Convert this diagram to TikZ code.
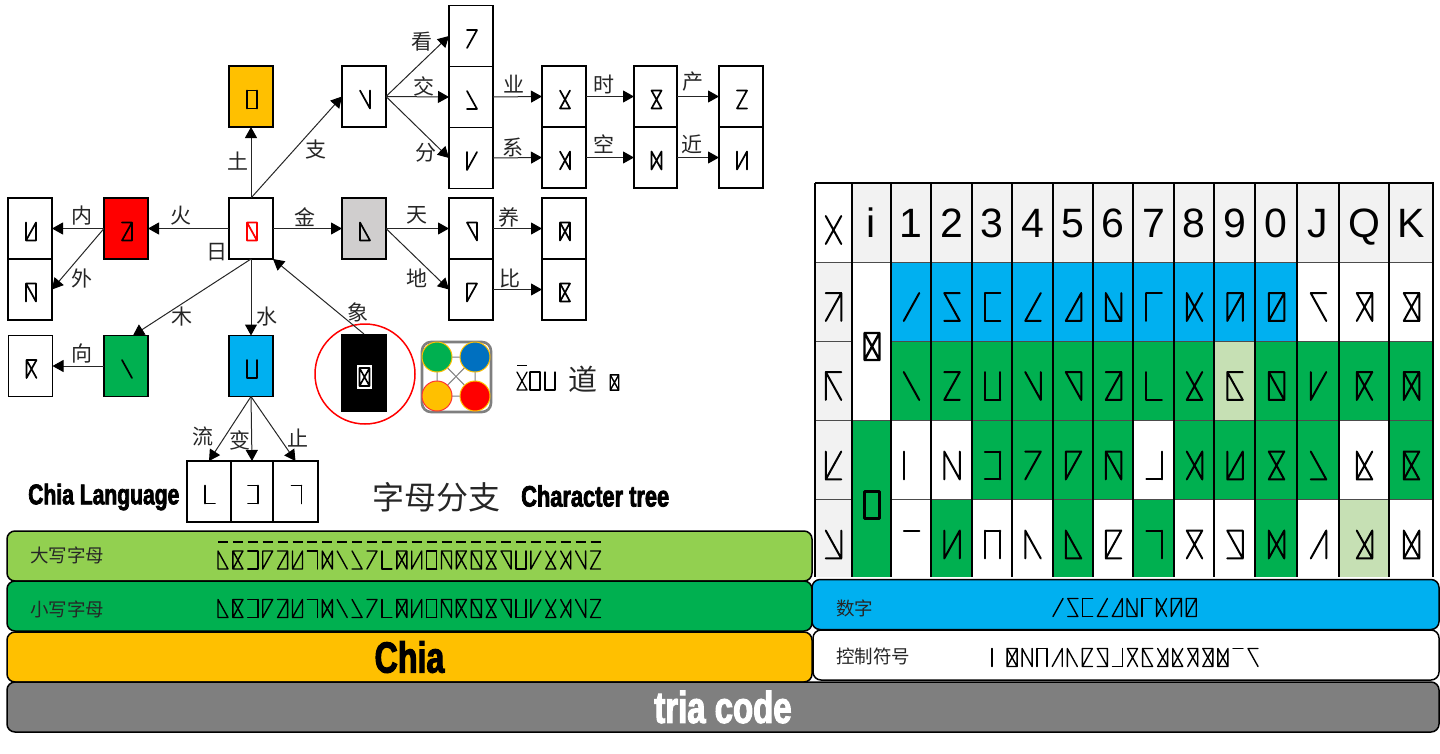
\documentclass[tikz,border=0pt]{standalone}
\usepackage{fontspec}
\setmainfont{Liberation Sans}
\newfontfamily\cjk{Noto Sans CJK SC}
\newfontfamily\heavy{Liberation Sans}[BoldFeatures={FakeStretch=0.74,FakeBold=2.4}]
\usetikzlibrary{arrows.meta}
\definecolor{cblue}{HTML}{00B0F0}
\definecolor{cgreen}{HTML}{00B050}
\definecolor{clime}{HTML}{92D050}
\definecolor{cpale}{HTML}{C6E0B4}
\definecolor{cgold}{HTML}{FFC000}
\definecolor{chead}{HTML}{F2F2F2}
\definecolor{cstone}{HTML}{D0CECE}
\definecolor{cbase}{HTML}{7F7F7F}
\definecolor{cdeep}{HTML}{0070C0}
\tikzset{
  box/.style={draw=black,line width=1.4pt,minimum width=44pt,minimum height=61pt,inner sep=0pt,outer sep=0pt},
  band/.style={draw=black,line width=1.5pt,rounded corners=8pt,inner sep=0pt,outer sep=0pt,minimum height=50pt},
  flow/.style={-{Triangle[length=11pt,width=12pt,color=black]},line width=1pt,draw=black!85},
  word/.style={font=\cjk\fontsize{21}{21}\selectfont,text=black!85,inner sep=0pt},
  tagname/.style={font=\heavy\bfseries\fontsize{28.5}{28.5}\selectfont,inner sep=0pt},
  bandtext/.style={font=\cjk\fontsize{18.5}{18.5}\selectfont,text=black!85,inner sep=0pt},
  grid/.style={line width=1.3pt,draw=black},
  tt/.style={insert path={(-5,-9)--(5,-9)}},
  bb/.style={insert path={(-5,9)--(5,9)}},
  ll/.style={insert path={(-5,-9)--(-5,9)}},
  rr/.style={insert path={(5,-9)--(5,9)}},
  uu/.style={insert path={(-5,9)--(5,-9)}},
  dd/.style={insert path={(-5,-9)--(5,9)}},
  pics/tria/.style={code={\edef\triarun{\noexpand\draw[line cap=round,#1];}\triarun}},
}
% column edges of the table
\def\colx{{815,852,891,931,972,1012,1053,1093,1133,1174,1214,1255,1297,1339,1389,1433}}
\newcommand\tablerow[4]{%
  \foreach \fillc/\s [count=\c from 2] in {#4} {
    \pgfmathsetmacro\xa{\colx[\c]}
    \pgfmathsetmacro\xb{\colx[\c+1]}
    \fill[\fillc] (\xa,#1) rectangle (\xb,#2);
    \pic[scale=1.55,line width=2pt] at ({(\xa+\xb)/2+0.5},#3) {tria=\s};
  }}
\def\alphabet{{ll,dd,bb},{tt,ll,uu,dd,bb},{tt,rr,bb},{tt,ll,uu},{tt,uu,bb,rr},{ll,uu,bb,rr},{tt,rr},{ll,rr,uu,dd},{dd},{dd,bb},{tt,uu},{ll,bb},{tt,ll,rr,uu,dd},{ll,uu,rr},{tt,ll,rr,bb},{tt,ll,dd,rr},{tt,ll,uu,dd},{tt,ll,rr,bb,dd},{tt,uu,dd,bb},{tt,dd,rr},{ll,rr,bb},{ll,uu},{uu,dd,bb},{uu,dd,rr},{dd,rr},{tt,uu,bb}}
\begin{document}
\begin{tikzpicture}[x=1pt,y=-1pt]
  \useasboundingbox (0,0) rectangle (1440,753);
  % tree nodes
  \node[box] (nsun) at (251,228.5) {};
  \node[box,fill=cgold] (nearth) at (251,96.5) {};
  \node[box] (nbranch) at (364,96.5) {};
  \node[box,fill=red] (nfire) at (126,228.5) {};
  \node[box] (ninner) at (30,228.5) {};
  \node[box] (nouter) at (30,289.5) {};
  \node[box,fill=cstone] (ngold) at (364,228.5) {};
  \node[box] (nsee) at (471,36) {};
  \node[box] (ncross) at (471,97) {};
  \node[box] (nsplit) at (471,158) {};
  \node[box] (nwork) at (564,96.5) {};
  \node[box] (nlink) at (564,157.5) {};
  \node[box,minimum width=43pt] (ntime) at (655.5,96.5) {};
  \node[box,minimum width=43pt] (nvoid) at (655.5,157.5) {};
  \node[box] (nmake) at (741,96.5) {};
  \node[box] (nnear) at (741,157.5) {};
  \node[box] (nsky) at (471,228.5) {};
  \node[box] (nland) at (471,289.5) {};
  \node[box] (nfeed) at (564,228.5) {};
  \node[box] (npair) at (564,289.5) {};
  \node[box,fill=cgreen] (nwood) at (126,366) {};
  \node[box] (nface) at (30.5,366) {};
  \node[box,fill=cblue] (nwater) at (251,366) {};
  \node[box] (nflow) at (209,491.5) {};
  \node[box,minimum width=42pt] (nchange) at (252,491.5) {};
  \node[box,minimum width=45pt] (nstop) at (295.5,491.5) {};
  \node[fill=black,minimum width=46pt,minimum height=78pt,inner sep=0pt,outer sep=0pt] (nimage) at (364,373) {};
  \node[fill=white,minimum width=15pt,minimum height=24pt,inner sep=0pt] (nmark) at (364.5,377) {};
  \draw[red,line width=1.5pt] (nimage.center) ++(1,1) circle[radius=50pt];
  % glyphs in the nodes
  \foreach \n/\s in {nearth/{tt,ll,rr,bb},nbranch/{dd,rr},nfire/{tt,uu,bb,rr},ninner/{ll,uu,bb,rr},nouter/{tt,ll,dd,rr},
      ngold/{ll,dd,bb},nsee/{tt,uu},ncross/{dd,bb},nsplit/{ll,uu},nwork/{uu,dd,bb},nlink/{uu,dd,rr},ntime/{tt,uu,dd,bb},
      nvoid/{ll,rr,uu,dd},nmake/{tt,uu,bb},nnear/{ll,uu,rr},nsky/{tt,dd,rr},nland/{tt,ll,uu},nfeed/{tt,ll,rr,uu,dd},
      npair/{tt,ll,uu,dd,bb},nwood/{dd},nface/{tt,ll,uu,dd},nwater/{ll,rr,bb},nflow/{ll,bb},nchange/{tt,rr,bb},nstop/{tt,rr}}
    \pic[line width=1.7pt] at ([shift={(1,3)}]\n.center) {tria=\s};
  \pic[red,line width=1.7pt] at ([shift={(1,3)}]nsun.center) {tria={tt,ll,rr,bb,dd}};
  \pic[line width=1.6pt] at (nmark) {tria={tt,ll,rr,bb,uu,dd}};
  % arrows of the tree
  \draw[flow] (nsun.north) -- (nearth.south);
  \draw[flow] (nsun.north) -- (nbranch.west);
  \draw[flow] (nsun.west) -- (nfire.east);
  \draw[flow] (nfire.west) -- (ninner.east);
  \draw[flow] (nfire.west) -- (nouter.east);
  \draw[flow] (nsun.east) -- (ngold.west);
  \draw[flow] (nbranch.east) -- (nsee.west);
  \draw[flow] (nbranch.east) -- (ncross.west);
  \draw[flow] (nbranch.east) -- (nsplit.west);
  \draw[flow] (ncross.east) -- (nwork.west);
  \draw[flow] (nsplit.east) -- (nlink.west);
  \draw[flow] (nwork.east) -- (ntime.west);
  \draw[flow] (nlink.east) -- (nvoid.west);
  \draw[flow] (ntime.east) -- (nmake.west);
  \draw[flow] (nvoid.east) -- (nnear.west);
  \draw[flow] (ngold.east) -- (nsky.west);
  \draw[flow] (ngold.east) -- (nland.west);
  \draw[flow] (nsky.east) -- (nfeed.west);
  \draw[flow] (nland.east) -- (npair.west);
  \draw[flow] (nsun.south) -- ([xshift=7pt]nwood.north);
  \draw[flow] (nsun.south) -- (nwater.north);
  \draw[flow] (nwood.west) -- (nface.east);
  \draw[flow] (nwater.south) -- (nflow.north);
  \draw[flow] (nwater.south) -- (nchange.north);
  \draw[flow] (nwater.south) -- (nstop.north);
  \draw[flow] (nimage.north) -- (nsun.south east);
  % words on the arrows
  \foreach \t/\x/\y in {土/238/161,支/316/150,内/82/216,火/181/216,金/305/217,日/217/252,外/82/278,木/182/317,水/267/317,
      象/358/312,向/82/353,流/203/436,变/240/440,止/298/438,看/422/42,交/424/86,分/426/153,业/514/84,时/604/84,产/693/82,
      系/513/147,空/604/144,近/692/144,天/417/215,地/417/278,养/509/217,比/510/278}
    \node[word] at (\x,\y) {\t};
  % logo
  \node[draw=cbase,line width=2.6pt,rounded corners=9pt,fill=white,minimum width=69pt,minimum height=70pt,inner sep=0pt] (nlogo) at (456.5,377) {};
  \coordinate (ca) at (437,357);
  \coordinate (cb) at (475,357);
  \coordinate (cc) at (437,396);
  \coordinate (cd) at (475,396);
  \draw[cbase,line width=1pt] (ca)--(cb)--(cd)--(cc)--cycle (ca)--(cd) (cb)--(cc);
  \fill[cgreen,draw=cgold,line width=1pt] (ca) circle[radius=15pt];
  \fill[cdeep,draw=cgold,line width=1pt] (cb) circle[radius=15pt];
  \fill[cgold,draw=red!80,line width=1pt] (cc) circle[radius=15pt];
  \fill[red,draw=cgold,line width=1pt] (cd) circle[radius=15pt];
  % name beside the logo
  \draw[line width=1.3pt] (517,365.5) -- (527,365.5);
  \pic[line width=1.3pt] at (522,381) {tria={uu,dd,bb}};
  \pic[line width=1.3pt] at (535,381) {tria={tt,ll,rr,bb}};
  \pic[line width=1.3pt] at (550,381) {tria={ll,rr,bb}};
  \node[font=\cjk\fontsize{29}{29}\selectfont,text=black!85,inner sep=0pt] (ndao) at (582.5,379) {道};
  \pic[scale=0.85,line width=1.4pt] at (614.5,382.5) {tria={tt,ll,rr,bb,uu,dd}};
  % captions
  \node[tagname,anchor=west] (nchia) at (28,497) {Chia Language};
  \node[font=\cjk\fontsize{32}{32}\selectfont,text=black!85,inner sep=0pt] (nzimu) at (436,497) {字母分支};
  \node[tagname,anchor=west,font=\heavy\bfseries\fontsize{29.5}{29.5}\selectfont] (ntree) at (521,496) {Character tree};
  % bands
  \node[band,fill=clime,minimum width=805pt] (bupper) at (409.5,556) {};
  \node[band,fill=cgreen,minimum width=805pt] (blower) at (409.5,606) {};
  \node[band,fill=cgold,minimum width=805pt] (bchia) at (409.5,657) {};
  \node[band,fill=cblue,minimum width=627pt] (bdigit) at (1125.5,604.5) {};
  \node[band,fill=white,minimum width=626pt] (bcontrol) at (1126,655) {};
  \node[band,fill=cbase,minimum width=1432pt] (bbase) at (723,707) {};
  \node[bandtext,anchor=west] at (30,555) {大写字母};
  \node[bandtext,anchor=west] at (30,609) {小写字母};
  \node[bandtext,anchor=west] at (836,608) {数字};
  \node[bandtext,anchor=west] at (836,656) {控制符号};
  \node[font=\heavy\bfseries\fontsize{43.5}{43.5}\selectfont,inner sep=0pt] at (bchia) {Chia};
  \node[font=\heavy\bfseries\fontsize{44.5}{44.5}\selectfont,text=white,inner sep=0pt] at (bbase) {tria code};
  % alphabets in the bands
  \foreach \s [count=\i from 0] in \alphabet {
    \pic[line width=1.4pt] at (223+14.9*\i,560) {tria=\s};
    \draw[line width=1.4pt] (218+14.9*\i,542) -- ++(10,0);
    \pic[line width=1.4pt] at (223+14.9*\i,608.5) {tria=\s};
  }
  \foreach \s [count=\i from 0] in {{uu},{tt,dd,bb},{tt,ll,bb},{uu,bb},{uu,bb,rr},{ll,dd,rr,bb},{tt,ll},{ll,uu,dd},{tt,ll,rr,uu},{tt,ll,rr,bb,uu}}
    \pic[line width=1.4pt] at (1058+14.8*\i,607.5) {tria=\s};
  \foreach \s [count=\i from 0] in {{ll},{tt,ll,rr,bb,uu,dd},{ll,dd,rr},{tt,ll,rr},{uu,rr},{ll,dd},{tt,ll,bb,uu},{tt,dd,bb,rr},{rr,bb},{tt,uu,dd},{tt,ll,dd,bb},{rr,uu,dd,bb},{ll,uu,dd,bb},{tt,rr,uu,dd},{tt,bb,rr,uu,dd},{ll,rr,uu,dd,bb},{tt},{tt,dd}}
    \pic[line width=1.4pt] at (997+15.06*\i,657.5) {tria=\s};
  % table
  \fill[chead] (852,183) rectangle (1433,262);
  \fill[chead] (815,262) rectangle (852,577);
  \fill[cgreen] (852,420) rectangle (891,577);
  \foreach \t [count=\c from 1] in {i,1,2,3,4,5,6,7,8,9,0,J,Q,K} {
    \pgfmathsetmacro\xa{\colx[\c]}
    \pgfmathsetmacro\xb{\colx[\c+1]}
    \node[font=\fontsize{41}{41}\selectfont,inner sep=0pt,text=black,anchor=base] at ({(\xa+\xb)/2},237) {\t};
  }
  \tablerow{262}{341}{307}{cblue/{uu},cblue/{tt,dd,bb},cblue/{tt,ll,bb},cblue/{uu,bb},cblue/{uu,bb,rr},cblue/{ll,dd,rr,bb},cblue/{tt,ll},cblue/{ll,uu,dd},cblue/{tt,ll,rr,uu},cblue/{tt,ll,rr,bb,uu},white/{tt,dd},white/{tt,rr,uu,dd},white/{tt,bb,rr,uu,dd}}
  \tablerow{341}{420}{386}{cgreen/{dd},cgreen/{tt,uu,bb},cgreen/{ll,rr,bb},cgreen/{dd,rr},cgreen/{tt,dd,rr},cgreen/{tt,uu,bb,rr},cgreen/{ll,bb},cgreen/{uu,dd,bb},cpale/{tt,ll,dd,bb},cgreen/{tt,ll,rr,bb,dd},cgreen/{ll,uu},cgreen/{tt,ll,uu,dd},cgreen/{tt,ll,rr,uu,dd}}
  \tablerow{420}{499}{465.5}{white/{ll},white/{ll,dd,rr},cgreen/{tt,rr,bb},cgreen/{tt,uu},cgreen/{tt,ll,uu},cgreen/{tt,ll,dd,rr},white/{rr,bb},cgreen/{uu,dd,rr},cgreen/{ll,rr,uu,bb},cgreen/{tt,uu,dd,bb},cgreen/{dd,bb},white/{ll,uu,dd,bb},cgreen/{tt,ll,bb,uu,dd}}
  \tablerow{499}{577}{544.5}{white/{tt},cgreen/{ll,uu,rr},white/{tt,ll,rr},white/{ll,dd},cgreen/{ll,dd,bb},white/{tt,ll,bb,uu},cgreen/{tt,rr},white/{tt,uu,dd},white/{tt,dd,bb,rr},cgreen/{ll,rr,uu,dd},white/{uu,rr},cpale/{rr,uu,dd,bb},white/{ll,rr,uu,dd,bb}}
  % the row heads and the merged cells
  \pic[scale=1.55,line width=2pt] at (833.5,230) {tria={uu,dd}};
  \pic[scale=1.55,line width=2pt] at (833.5,307) {tria={tt,rr,uu}};
  \pic[scale=1.55,line width=2pt] at (833.5,386) {tria={tt,ll,dd}};
  \pic[scale=1.55,line width=2pt] at (833.5,465.5) {tria={ll,bb,uu}};
  \pic[scale=1.55,line width=2pt] at (833.5,544.5) {tria={rr,bb,dd}};
  \pic[scale=1.5,line width=2.4pt] at (872,346.5) {tria={tt,ll,rr,bb,uu,dd}};
  \pic[scale=1.5,line width=2.4pt] at (872,505) {tria={tt,ll,rr,bb}};
  \foreach \y in {262,341,420,499} {
    \draw[line width=1pt,draw=black!70] (815,\y) -- (852,\y);
    \draw[line width=1pt,draw=black!70] (891,\y) -- (1433,\y);
  }
  \draw[line width=1pt,draw=black!70] (852,262) -- (891,262) (852,420) -- (891,420);
  \foreach \x in {852,891,931,972,1012,1053,1093,1133,1174,1214,1255,1297,1339,1389}
    \draw[grid] (\x,183) -- (\x,577);
  \draw[line width=1.8pt] (815,183) -- (1433,183) -- (1433,577) (815,183) -- (815,577);
\end{tikzpicture}
\end{document}
